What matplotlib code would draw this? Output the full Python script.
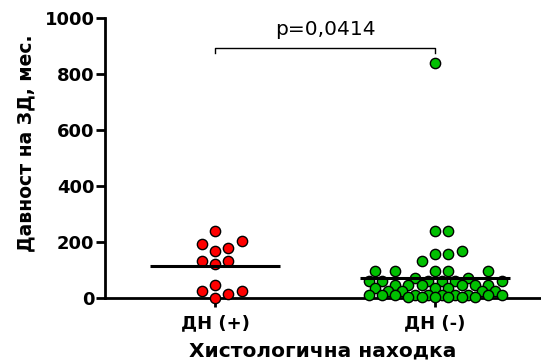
import numpy as np
import matplotlib
matplotlib.use("Agg")
import matplotlib.pyplot as plt

plt.rcParams['font.family'] = ['DejaVu Sans']

categories = ["ДН (+)", "ДН (-)"]
red_values = [239, 204, 193, 179, 168, 132, 121, 132, 46, 25, 14, 25, 0]
green_values = [840, 239, 239, 168, 157, 157, 132, 96, 96, 96, 96, 96, 72, 72,
                60, 60, 60, 60, 60, 60, 48, 48, 48, 48, 48, 48, 36, 36, 36,
                24, 24, 24, 24, 12, 12, 12, 12, 12, 12, 12, 12, 12, 12,
                3, 3, 3, 3, 3, 3]
colors = ["#ff0000", "#00c000"]
p_text = "p=0,0414"
yticks = [0, 200, 400, 600, 800, 1000]

W, H, DPI = 541, 362, 100
fig = plt.figure(figsize=(W / DPI, H / DPI), dpi=DPI)
ax = fig.add_axes([105 / W, 64 / H, (W - 105) / W, 280 / H])
ax.set_xlim(-0.5, 1.4818)
ax.set_ylim(0, 1000)

px_per_x = (W - 105) / (1.4818 + 0.5)
px_per_y = 280 / 1000.0
STEP = 13.3   # column spacing in px
D = 12.5      # no-overlap distance in px
MAXC = 5      # max columns each side


def column_scatter(vals):
    order = np.argsort(np.array(vals), kind="stable")
    placed = []
    offs = np.zeros(len(vals))
    seq = [0]
    for j in range(1, MAXC + 1):
        seq += [j, -j]
    fine = sorted(np.arange(-MAXC, MAXC + 0.01, 0.5), key=lambda c: (abs(c), -c))
    for i in order:
        y = vals[i] * px_per_y

        def mind(c):
            if not placed:
                return 1e9
            return min(np.hypot((c - pc) * STEP, y - py) for pc, py in placed)

        pos = None
        for c in seq:
            if mind(c) >= D:
                pos = c
                break
        if pos is None:
            pos = max(fine, key=mind)
        placed.append((pos, y))
        offs[i] = pos
    return offs * STEP / px_per_x


for k, (vals, col) in enumerate(zip([red_values, green_values], colors)):
    xo = column_scatter(vals)
    ax.scatter(k + xo, vals, s=7.4 ** 2, c=col, edgecolors="black",
               linewidths=1.0, zorder=4, clip_on=False)
    m = np.mean(vals)
    hw = 0.295 if k == 0 else 0.34
    ax.plot([k - hw, k + hw], [m, m], color="black", lw=2.2, zorder=5,
            solid_capstyle="butt")

# significance bracket
yb = 893
ax.plot([0, 0, 1, 1], [yb - 18, yb, yb, yb - 18], color="black", lw=1.0,
        clip_on=False)
ax.text(0.5, yb + 32, p_text, ha="center", va="bottom", fontsize=14.5)

for s in ["top", "right"]:
    ax.spines[s].set_visible(False)
for s in ["left", "bottom"]:
    ax.spines[s].set_linewidth(2)

ax.set_xticks([0, 1])
ax.set_xticklabels(categories, fontsize=13, fontweight="bold")
ax.set_yticks(yticks)
ax.set_yticklabels([str(t) for t in yticks], fontsize=13, fontweight="bold")
ax.tick_params(axis="both", width=2, length=6.5, direction="out")
ax.tick_params(axis="x", pad=5)
ax.tick_params(axis="y", pad=1)

ax.set_ylabel("Давност на ЗД, мес.", fontsize=13.5, fontweight="bold")
ax.yaxis.set_label_coords(26 / W, 1 - 143 / H, transform=fig.transFigure)
ax.set_xlabel("Хистологична находка", fontsize=14.5, fontweight="bold")
ax.xaxis.set_label_coords(323 / W, 1 - 351 / H, transform=fig.transFigure)
ax.xaxis.label.set_va("center")
ax.yaxis.label.set_va("center")

fig.savefig("out.png", dpi=DPI)
